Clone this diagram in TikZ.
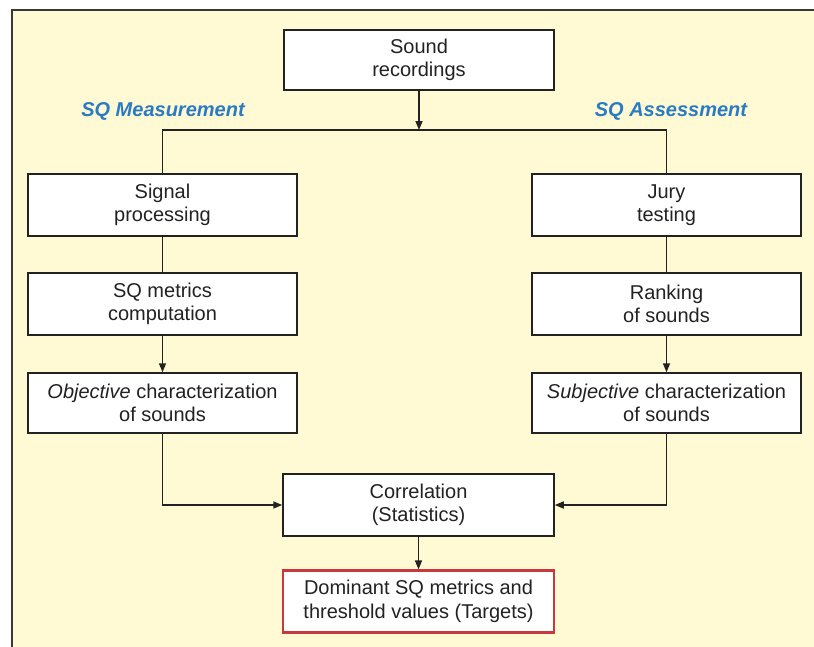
\documentclass[tikz,border=0pt]{standalone}
\usepackage{fontspec}
\setmainfont{Liberation Sans}
\usetikzlibrary{arrows.meta}
\definecolor{cream}{HTML}{FFF9D4}
\definecolor{sqblue}{HTML}{2A7BC4}
\definecolor{tgtred}{HTML}{C8383C}
\definecolor{ink}{HTML}{222222}
\begin{document}
\begin{tikzpicture}[x=1pt,y=-1pt,
  box/.style={draw=ink, line width=1.5pt, fill=white, minimum width=269pt, minimum height=62pt,
    align=center, font=\fontsize{20}{23.5}\selectfont, text=ink, inner sep=0pt},
  target/.style={box, draw=tgtred, line width=2.2pt},
  arr/.style={-{Triangle[length=9pt,width=7pt]}, line width=1.5pt, draw=ink},
  link/.style={line width=1.5pt, draw=ink},
  phase/.style={font=\fontsize{20}{24}\selectfont\bfseries\itshape, text=sqblue}]
\useasboundingbox (0,0) rectangle (814,646);
\fill[white] (0,0) rectangle (814,646);
\draw[line width=2pt, draw=ink!90, fill=cream] (11.5,9.5) rectangle (840,680);

\node[box, minimum width=270pt, minimum height=60pt] (rec) at (419,60) {Sound\\recordings};
\node[phase] (lm) at (163,111) {SQ Measurement};
\node[phase] (la) at (671,111) {SQ Assessment};

\node[box] (sig) at (162.5,205) {Signal\\processing};
\node[box] (met) at (162.5,304) {SQ metrics\\computation};
\node[box, minimum height=60pt] (obj) at (162.5,403) {\textit{Objective} characterization\\of sounds};

\node[box] (jury) at (666.5,205) {Jury\\testing};
\node[box] (rank) at (666.5,304) {Ranking\\of sounds};
\node[box, minimum height=60pt] (subj) at (666.5,403) {\textit{Subjective} characterization\\of sounds};

\node[box, minimum width=271pt] (corr) at (418.5,505) {Correlation\\(Statistics)};
\node[target, minimum width=271pt, minimum height=62pt] (dom) at (418.5,601.5) {Dominant SQ metrics and\\threshold values (Targets)};

\coordinate (br) at (419,130);
\draw[arr] (rec) -- (br);
\draw[link] (sig.north) |- (br) -| (jury.north);
\draw[link] (sig) -- (met);
\draw[arr] (met) -- (obj);
\draw[link] (jury) -- (rank);
\draw[arr] (rank) -- (subj);
\draw[arr] (obj.south) |- (corr.west);
\draw[arr] (subj.south) |- (corr.east);
\draw[arr] (corr) -- (dom);
\end{tikzpicture}
\end{document}
